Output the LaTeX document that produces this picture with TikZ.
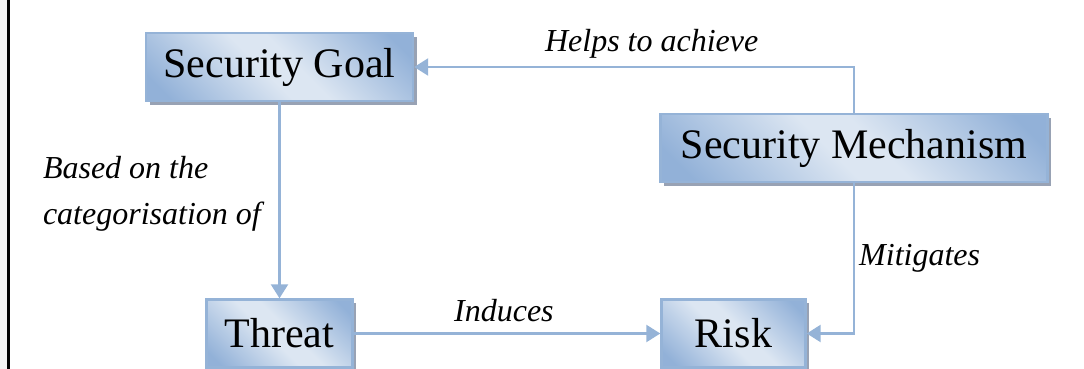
\documentclass[tikz,border=0pt]{standalone}
\usepackage{fontspec}
\setmainfont{Liberation Serif}
\usetikzlibrary{arrows.meta,positioning,shadows}

\definecolor{boxdark}{HTML}{92B1D8}
\definecolor{boxlight}{HTML}{DCE6F2}
\definecolor{linkblue}{HTML}{95B3D7}
\definecolor{shadowgrey}{HTML}{98A2B4}
\definecolor{marginstrip}{HTML}{F2F2F2}
\pgfdeclarehorizontalshading{boxshade}{100bp}{color(0bp)=(boxdark); color(20bp)=(boxdark); color(46bp)=(boxlight); color(54bp)=(boxlight); color(80bp)=(boxdark); color(100bp)=(boxdark)}

\begin{document}
\begin{tikzpicture}[node distance=3cm,on grid]
  \tikzstyle{block}=[rectangle, draw=linkblue, line width=1.2pt, shading=boxshade, shading angle=45, minimum height=34pt, inner sep=0pt, font=\fontsize{21}{25}\selectfont, drop shadow={shadow xshift=1.8pt, shadow yshift=-2pt, fill=shadowgrey, opacity=1}]
  \tikzstyle{link}=[linkblue, line width=1.2pt, -{Triangle[length=7pt,width=8.5pt]}]
  \tikzstyle{lbl}=[inner sep=0pt, font=\itshape\fontsize{16}{23}\selectfont, text=black]
  \tikzstyle{elbow}=[to path={|- (\tikztotarget) \tikztonodes}]

  \useasboundingbox (-139.75pt,33.5pt) rectangle (402.25pt,-151pt);
  \fill[marginstrip] (-139.75pt,33.5pt) rectangle (-136.25pt,-151pt);
  \draw[line width=1.5pt] (-135.5pt,33.5pt) -- (-135.5pt,-151pt);

    \node[block, minimum width=133.5pt] (goal)                                {Security Goal};
    \node[block, minimum width=73pt]    (threat) [below=133.25pt of goal]     {Threat};
    \node[block, minimum width=72pt]    (risk)   [right=227pt of threat]      {Risk};
    \node[block, minimum width=193.5pt] (mech)   [above right=92.75pt and 60.25pt of risk] {Security Mechanism};

    \path[link]
    (goal)   edge node[lbl, pos=0.465, left=8.75pt, align=left] {Based on the\\categorisation of} (threat)
    (threat) edge node[lbl, pos=0.49, above=5.2pt] {Induces} (risk)
    (mech)   edge[elbow] node[lbl, pos=0.73, above=3.8pt] {Helps to achieve} (goal)
    (mech)   edge[elbow] node[lbl, pos=0.25, right=2pt] {Mitigates} (risk)
    ;

\end{tikzpicture}
\end{document}
